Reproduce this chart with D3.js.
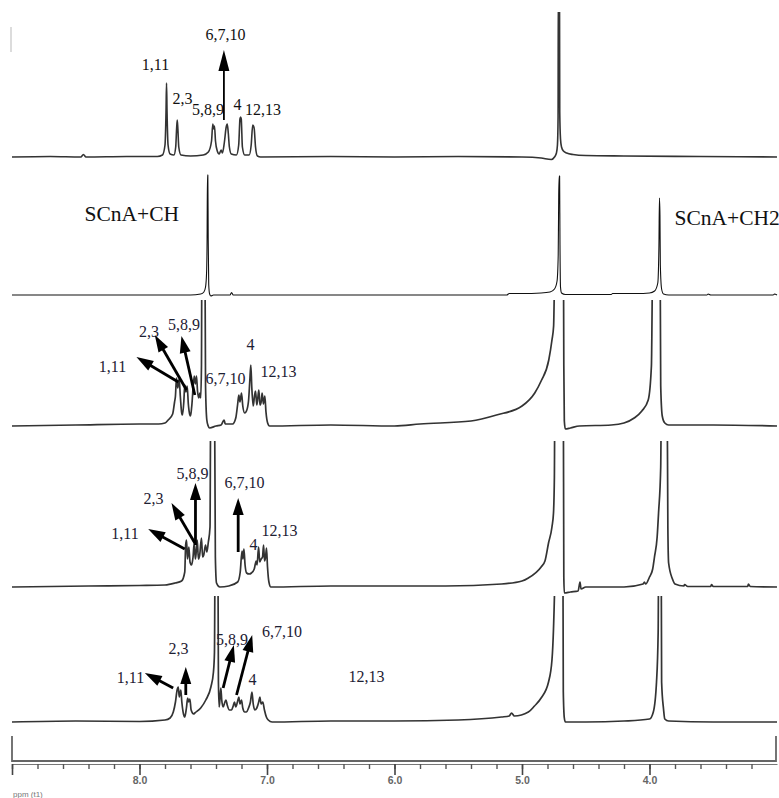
<!DOCTYPE html>
<html><head><meta charset="utf-8">
<script src="https://cdn.jsdelivr.net/npm/d3@7"></script>
<style>body{margin:0;background:#fff}svg{display:block}</style></head>
<body>
<svg id="c" width="779" height="798"></svg>
<script>
// ---------- DATA (ppm, intensity a.u.) ----------
const trace1 = [[9.0,0],[8.7,0.5],[8.46,0],[8.44,2.5],[8.42,0],[8.1,0.5],[7.86,0.5],[7.82,2],[7.80,12],[7.792,45],[7.788,74],[7.784,45],[7.776,12],[7.76,3],[7.73,2],[7.716,10],[7.709,28],[7.704,37],[7.699,28],[7.692,10],[7.675,2],[7.6,1],[7.5,2],[7.46,5],[7.435,16],[7.425,33],[7.418,28],[7.412,31],[7.404,16],[7.39,6],[7.375,3],[7.36,7],[7.35,4],[7.335,14],[7.32,30],[7.312,33],[7.305,26],[7.295,10],[7.28,3],[7.24,2],[7.222,12],[7.212,38],[7.207,40],[7.202,38],[7.193,10],[7.175,2],[7.14,2],[7.124,12],[7.112,32],[7.106,31],[7.10,28],[7.09,10],[7.075,1],[7.05,0],[6.5,0.5],[6.0,0],[5.5,0.5],[5.0,0],[4.85,-1],[4.77,-2.5],[4.745,0],[4.73,4],[4.722,12],[4.717,40],[4.715,170],[4.706,170],[4.704,45],[4.698,18],[4.69,10],[4.675,6],[4.65,4],[4.6,2.5],[4.5,1.5],[4.2,1],[3.6,0.5],[3.0,0]];

const trace2 = [[9.0,0],[8.0,0],[7.6,0],[7.52,1],[7.495,3],[7.482,8],[7.474,22],[7.470,55],[7.467,120],[7.464,120],[7.461,55],[7.457,10],[7.45,1],[7.44,-1],[7.42,0],[7.29,0],[7.278,2.5],[7.265,0],[6.0,0],[5.12,0],[5.10,1.5],[5.0,1.5],[4.85,2],[4.78,3],[4.745,6],[4.725,14],[4.716,40],[4.712,100],[4.708,119],[4.705,119],[4.702,50],[4.698,8],[4.69,2],[4.66,0.5],[4.30,0.5],[4.29,1.5],[4.1,1.5],[4.0,2],[3.96,4],[3.935,12],[3.926,50],[3.922,97],[3.918,80],[3.915,30],[3.905,6],[3.89,1],[3.85,0],[3.55,0],[3.54,1],[3.52,0],[3.03,0],[3.02,1],[3.0,0]];

const trace3 = [[9.0,0],[8.5,1],[8.0,2],[7.85,2],[7.80,3],[7.775,6],[7.74,12],[7.725,24],[7.718,30],[7.710,48],[7.700,38],[7.689,47],[7.680,30],[7.670,14],[7.663,11],[7.652,25],[7.645,41],[7.636,34],[7.626,40],[7.617,22],[7.607,12],[7.600,10],[7.59,20],[7.571,50],[7.562,42],[7.553,50],[7.545,35],[7.535,28],[7.527,33],[7.520,28],[7.514,60],[7.510,200],[7.488,200],[7.482,40],[7.472,6],[7.461,0],[7.45,-2],[7.40,0],[7.36,1],[7.343,5],[7.336,6],[7.328,2],[7.27,2],[7.245,8],[7.23,22],[7.221,31],[7.212,24],[7.200,33],[7.190,20],[7.175,13],[7.161,15],[7.145,25],[7.135,45],[7.127,61],[7.119,38],[7.108,20],[7.098,30],[7.090,35],[7.080,21],[7.072,28],[7.064,36],[7.055,21],[7.046,24],[7.038,33],[7.028,22],[7.017,30],[7.008,14],[6.995,3],[6.98,0],[6.5,1],[6.0,0],[5.8,2],[5.4,5],[5.2,11],[5.0,20],[4.90,33],[4.85,45],[4.79,66],[4.765,86],[4.752,100],[4.746,140],[4.738,200],[4.69,200],[4.676,200],[4.672,60],[4.668,5],[4.66,-3],[4.62,-2],[4.55,0],[4.3,1],[4.2,3],[4.12,8],[4.06,15],[4.01,26],[3.985,60],[3.972,200],[3.918,200],[3.912,40],[3.90,10],[3.88,3],[3.85,1],[3.5,1],[3.0,0]];

const trace4 = [[9.0,0],[8.4,1],[8.0,1.5],[7.80,2],[7.72,4],[7.67,6],[7.645,15],[7.638,42],[7.631,47],[7.624,28],[7.613,40],[7.604,25],[7.592,22],[7.580,30],[7.571,44],[7.562,28],[7.555,35],[7.547,47],[7.538,28],[7.528,32],[7.514,49],[7.505,30],[7.496,32],[7.482,42],[7.472,35],[7.460,45],[7.447,60],[7.441,200],[7.412,200],[7.405,30],[7.396,4],[7.37,0],[7.30,1],[7.23,5],[7.21,15],[7.196,36],[7.189,28],[7.181,38],[7.172,22],[7.16,14],[7.14,13],[7.122,14],[7.10,18],[7.085,26],[7.078,22],[7.066,40],[7.057,25],[7.046,28],[7.035,30],[7.027,42],[7.019,26],[7.011,30],[7.004,39],[6.996,20],[6.985,5],[6.97,0],[6.5,1],[6.0,1],[5.6,1],[5.16,3],[5.0,6],[4.95,9],[4.85,20],[4.82,26],[4.792,44],[4.765,60],[4.753,74],[4.746,110],[4.742,200],[4.68,200],[4.676,200],[4.672,10],[4.668,-6],[4.62,-5],[4.56,-4],[4.545,5],[4.537,-2],[4.50,0],[4.2,0],[4.05,3],[4.04,5],[4.03,3],[4.0,10],[3.975,18],[3.961,30],[3.94,50],[3.929,74],[3.912,120],[3.906,200],[3.862,200],[3.856,60],[3.850,24],[3.82,8],[3.80,3],[3.73,1],[3.725,2.5],[3.70,0.5],[3.52,0.5],[3.514,2.5],[3.50,0.5],[3.23,0.5],[3.224,3],[3.21,0.5],[3.0,0]];

const trace5 = [[9.0,0],[8.5,1],[8.0,0.5],[7.80,2],[7.76,4],[7.735,10],[7.718,20],[7.705,32],[7.696,35],[7.688,25],[7.676,32],[7.668,20],[7.655,8],[7.645,5],[7.632,14],[7.622,24],[7.615,20],[7.605,23],[7.595,12],[7.575,8],[7.566,9],[7.52,14],[7.48,22],[7.44,35],[7.42,50],[7.412,70],[7.406,200],[7.386,200],[7.381,40],[7.375,15],[7.368,25],[7.362,34],[7.355,22],[7.344,15],[7.330,20],[7.322,22],[7.312,17],[7.295,12],[7.278,12],[7.265,16],[7.255,20],[7.245,15],[7.232,20],[7.221,25],[7.212,18],[7.200,22],[7.190,14],[7.175,10],[7.161,10],[7.145,14],[7.130,20],[7.118,30],[7.108,18],[7.096,12],[7.08,14],[7.065,20],[7.056,25],[7.046,18],[7.033,20],[7.020,12],[7.005,5],[6.99,2],[6.96,0],[6.5,1],[6.0,1],[5.5,2],[5.16,5],[5.10,6],[5.082,9],[5.06,6],[4.95,10],[4.902,16],[4.85,24],[4.792,40],[4.765,62],[4.753,93],[4.742,150],[4.737,200],[4.680,200],[4.676,30],[4.668,4],[4.66,0],[4.5,0],[4.2,1],[4.0,3],[3.97,10],[3.945,40],[3.932,90],[3.927,200],[3.909,200],[3.905,40],[3.89,13],[3.88,3],[3.85,1],[3.5,0],[3.0,0]];

// peak labels: [text, ppm (center), intensity (baseline of text)]
const labels1 = [["1,11",7.875,87],["2,3",7.663,53],["5,8,9",7.463,42],["4",7.231,47],["12,13",7.031,42],["6,7,10",7.325,117]];
const labels2 = [["SCnA+CH",8.431,74,"start"],["SCnA+CH2",3.804,70,"start"]];
const labels3 = [["2,3",7.925,89],["5,8,9",7.651,96],["1,11",8.212,54],["4",7.129,76],["12,13",6.910,49],["6,7,10",7.325,42]];
const labels4 = [["5,8,9",7.584,108],["6,7,10",7.176,99],["2,3",7.890,83],["1,11",8.114,48],["4",7.106,37],["12,13",6.902,51]];
const labels5 = [["1,11",8.071,39],["2,3",7.694,68],["5,8,9",7.275,77],["6,7,10",6.882,85],["4",7.114,37],["12,13",6.220,40]];

// arrows: [ppm tail, intensity tail, ppm tip, intensity tip]
const arrows1 = [[7.338,37,7.338,107]];
const arrows3 = [[7.696,44,8.024,69],[7.631,36,7.880,91],[7.566,31,7.671,90]];
const arrows4 = [[7.645,38,7.932,58],[7.566,44,7.749,84],[7.561,42,7.561,104],[7.226,35,7.226,89]];
const arrows5 = [[7.736,34,7.958,49],[7.637,27,7.637,55],[7.344,34,7.260,77],[7.239,27,7.116,87]];

// axis ticks
const minorTicks = [9.0,8.8,8.6,8.4,8.2,8.0,7.8,7.6,7.4,7.2,7.0,6.8,6.6,6.4,6.2,6.0,5.8,5.6,5.4,5.2,5.0,4.8,4.6,4.4,4.2,4.0,3.8,3.6,3.4,3.2];
const majorTicks = [9.0,8.0,7.0,6.0,5.0,4.0];
const majorLabels = ["","8.0","7.0","6.0","5.0","4.0"];
const axisTitle = "ppm (t1)";

// ---------- LAYOUT ----------
const svg = d3.select("#c");
const x = d3.scaleLinear().domain([9.0, 3.0]).range([12, 777]);
const panels = [
  {data:trace1, labels:labels1, arrows:arrows1, base:157, top:12, color:"#333", w:1.6, aw:1.8, hl:21, hw:11},
  {data:trace2, labels:labels2, arrows:[], base:295, top:170, color:"#111", w:1.1, aw:2.6, hl:17, hw:11},
  {data:trace3, labels:labels3, arrows:arrows3, base:426, top:300, color:"#333", w:1.7, aw:2.8, hl:17, hw:11},
  {data:trace4, labels:labels4, arrows:arrows4, base:587, top:441, color:"#333", w:1.7, aw:2.8, hl:17, hw:11},
  {data:trace5, labels:labels5, arrows:arrows5, base:722, top:596, color:"#333", w:1.7, aw:2.8, hl:17, hw:11}
];

const defs = svg.append("defs");
// faint remnant line top-left
svg.append("line").attr("x1",11).attr("x2",11).attr("y1",27).attr("y2",52)
  .attr("stroke","#d0d0d0").attr("stroke-width",1.5);

panels.forEach((p,i) => {
  const y = d3.scaleLinear().domain([0,100]).range([p.base, p.base-100]);
  defs.append("clipPath").attr("id","clip"+i).append("rect")
    .attr("x",0).attr("width",779).attr("y",p.top).attr("height",p.base+14-p.top);
  const line = d3.line().x(d=>x(d[0])).y(d=>y(d[1])).curve(d3.curveMonotoneX);
  svg.append("path").datum(p.data).attr("d",line).attr("clip-path","url(#clip"+i+")")
    .attr("fill","none").attr("stroke",p.color).attr("stroke-width",p.w)
    .attr("stroke-linejoin","round");

  p.labels.forEach(l => {
    const big = l[3] === "start";
    svg.append("text").attr("x",x(l[1])).attr("y",y(l[2]))
      .attr("text-anchor", big ? "start" : "middle")
      .attr("font-family","'Liberation Serif','Times New Roman',serif")
      .attr("font-size", big ? 21.5 : 16)
      .attr("fill", i===0 || big ? "#111" : "#1d2033")
      .text(l[0]);
  });

  p.arrows.forEach(a => {
    const x0=x(a[0]), y0=y(a[1]), x1=x(a[2]), y1=y(a[3]);
    const dx=x1-x0, dy=y1-y0, L=Math.hypot(dx,dy), ux=dx/L, uy=dy/L;
    const bx=x1-ux*p.hl, by=y1-uy*p.hl;
    svg.append("line").attr("x1",x0).attr("y1",y0).attr("x2",bx+ux*2).attr("y2",by+uy*2)
      .attr("stroke","#000").attr("stroke-width",p.aw);
    svg.append("path").attr("d",`M${x1},${y1}L${bx-uy*p.hw/2},${by+ux*p.hw/2}L${bx+uy*p.hw/2},${by-ux*p.hw/2}Z`)
      .attr("fill","#000");
  });
});

// ---------- AXIS ----------
svg.append("path").attr("d",`M${x(9.0)},736V761H${x(3.0)-1}V736`)
  .attr("fill","none").attr("stroke","#666").attr("stroke-width",1.8);
const gMinor = svg.append("g").attr("transform","translate(0,764)")
  .call(d3.axisBottom(x).tickValues(minorTicks).tickSize(5).tickSizeOuter(0).tickFormat(""));
gMinor.select(".domain").attr("stroke","#777");
gMinor.selectAll(".tick line").attr("stroke","#555").attr("stroke-width",1.4);
const gMajor = svg.append("g").attr("transform","translate(0,764)")
  .call(d3.axisBottom(x).tickValues(majorTicks).tickSize(11).tickSizeOuter(0)
    .tickFormat((d,i)=>majorLabels[i]));
gMajor.select(".domain").remove();
gMajor.selectAll(".tick line").attr("stroke","#444").attr("stroke-width",1.6);
gMajor.selectAll(".tick text").attr("dy",0).attr("y",20)
  .attr("font-family","'Liberation Sans',Arial,sans-serif").attr("font-size",10.5)
  .attr("font-weight","bold").attr("fill","#666");
svg.append("text").attr("x",13).attr("y",797).text(axisTitle)
  .attr("font-family","'Liberation Sans',Arial,sans-serif").attr("font-size",8)
  .attr("fill","#777");
</script>
</body></html>
